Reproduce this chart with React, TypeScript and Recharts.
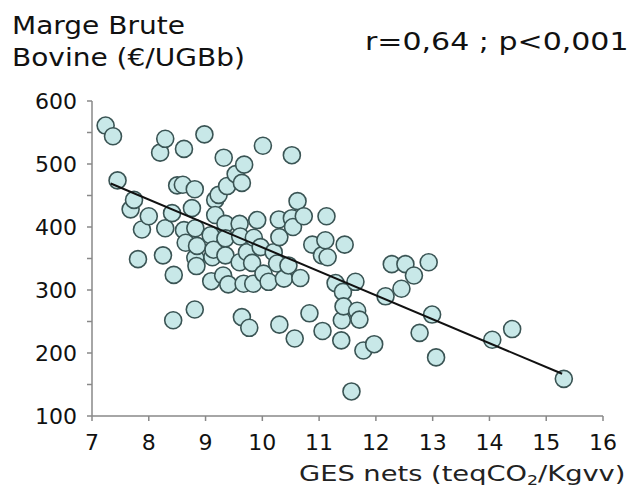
import React from "react";
import { ScatterChart, Scatter, XAxis, YAxis } from "recharts";

// GES nets (teqCO2/Kgvv) vs Marge Brute Bovine (€/UGBb)
const gesNets = [
  7.24, 7.37, 7.45, 7.68, 7.74, 7.81, 7.88, 8.0, 8.2, 8.25, 8.29, 8.29, 8.41, 8.43, 8.44,
  8.5, 8.6, 8.62, 8.62, 8.65, 8.76, 8.81, 8.81, 8.82, 8.82, 8.84, 8.85, 8.98, 9.09, 9.1,
  9.12, 9.14, 9.17, 9.17, 9.23, 9.31, 9.32, 9.35, 9.35, 9.35, 9.38, 9.4, 9.53, 9.6, 9.6,
  9.61, 9.64, 9.64, 9.67, 9.68, 9.73, 9.77, 9.82, 9.84, 9.85, 9.91, 9.97, 10.01, 10.02, 10.11,
  10.2, 10.26, 10.29, 10.3, 10.3, 10.38, 10.46, 10.52, 10.52, 10.54, 10.57, 10.62, 10.67, 10.73, 10.83,
  10.88, 11.05, 11.06, 11.11, 11.13, 11.15, 11.29, 11.39, 11.4, 11.42, 11.43, 11.45, 11.57, 11.64, 11.67,
  11.71, 11.78, 11.97, 12.17, 12.28, 12.45, 12.52, 12.67, 12.77, 12.93, 12.99, 13.06, 14.05, 14.4, 15.31,
];
const margeBrute = [
  561, 544, 474, 428, 443, 349, 396, 417, 518, 355, 540, 398, 422, 252, 324,
  466, 467, 524, 395, 375, 430, 460, 269, 398, 351, 338, 370, 547, 387, 314,
  352, 364, 443, 419, 451, 323, 510, 405, 382, 355, 465, 309, 484, 405, 344,
  385, 470, 257, 310, 499, 360, 240, 343, 310, 383, 411, 368, 529, 326, 313,
  360, 342, 412, 384, 245, 318, 339, 514, 414, 400, 223, 441, 319, 417, 263,
  372, 355, 235, 379, 417, 352, 311, 220, 252, 297, 274, 372, 139, 313, 267,
  253, 204, 214, 290, 341, 302, 341, 323, 232, 344, 261, 193, 221, 238, 159,
];

// regression line end points
const trendX = [7.33, 15.28];
const trendY = [469, 167];

const xTicks = [7, 8, 9, 10, 11, 12, 13, 14, 15, 16];
const yTicks = [100, 150, 200, 250, 300, 350, 400, 450, 500, 550, 600];

const points = gesNets.map((x, i) => ({ x, y: margeBrute[i] }));
const trend = trendX.map((x, i) => ({ x, y: trendY[i] }));

const FONT = "Verdana, 'DejaVu Sans', sans-serif";

const Dot = (props: any) => (
  <circle cx={props.cx} cy={props.cy} r={8.5} fill="#c8e8e8" stroke="#3a5454" strokeWidth={1.6} />
);

const YTick = (props: any) => {
  const { x, y, payload } = props;
  if (payload.value % 100 !== 0) return null;
  return (
    <text x={x} y={y} dy={8} textAnchor="end" fontSize={22} fill="#111" fontFamily={FONT}>
      {payload.value}
    </text>
  );
};

const stretched = (sx: number): React.CSSProperties => ({
  transform: `scaleX(${sx})`,
  transformOrigin: "left top",
  whiteSpace: "nowrap",
  color: "#111",
});

export default function App() {
  return (
    <div style={{ position: "absolute", left: 0, top: 0, width: 632, height: 496, background: "#fff", fontFamily: FONT, overflow: "hidden" }}>
      <div style={{ position: "absolute", left: 12, top: 10, fontSize: 25, lineHeight: "32px", ...stretched(1.12) }}>
        Marge Brute
        <br />
        Bovine (€/UGBb)
      </div>
      <div style={{ position: "absolute", left: 365, top: 27, fontSize: 25, ...stretched(1.2) }}>
        r=0,64 ; p&lt;0,001
      </div>
      <div style={{ position: "absolute", left: 299, top: 461, fontSize: 22, ...stretched(1.24), color: "#222" }}>
        GES nets (teqCO<sub style={{ fontSize: 14, verticalAlign: -4, lineHeight: 0 }}>2</sub>/Kgvv)
      </div>
      <ScatterChart width={632} height={496} margin={{ top: 101, right: 29, bottom: 50, left: 0 }}>
        <XAxis
          type="number"
          dataKey="x"
          domain={[7, 16]}
          ticks={xTicks}
          allowDataOverflow
          stroke="#888"
          strokeWidth={1.5}
          tickSize={5}
          tickMargin={13}
          tick={{ fontSize: 22, fill: "#111", fontFamily: FONT }}
        />
        <YAxis
          type="number"
          dataKey="y"
          domain={[100, 600]}
          ticks={yTicks}
          allowDataOverflow
          width={92}
          stroke="#888"
          strokeWidth={1.5}
          tickSize={5}
          tickMargin={10}
          tick={<YTick />}
        />
        <Scatter data={points} shape={<Dot />} isAnimationActive={false} />
        <Scatter
          data={trend}
          line={{ stroke: "#111", strokeWidth: 2 }}
          shape={() => null}
          isAnimationActive={false}
        />
      </ScatterChart>
    </div>
  );
}
